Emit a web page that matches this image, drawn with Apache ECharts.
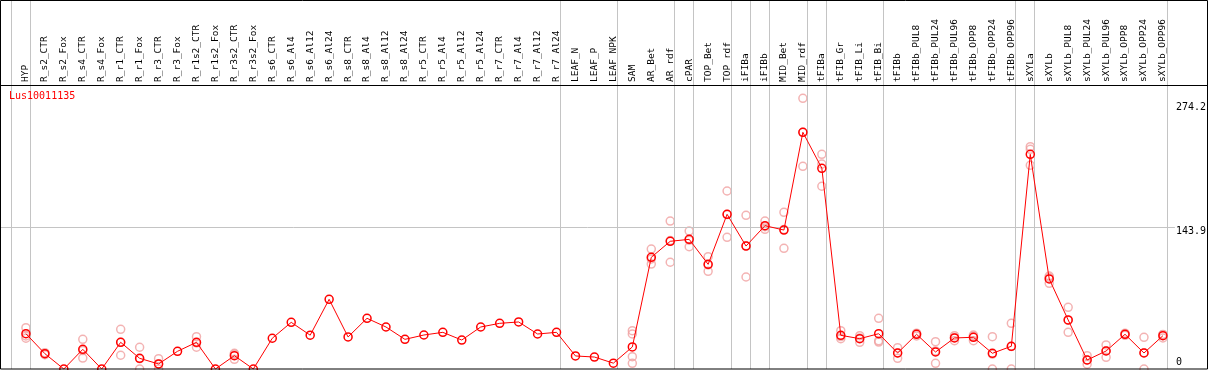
<!DOCTYPE html>
<html>
<head>
<meta charset="utf-8">
<script src="https://cdn.jsdelivr.net/npm/echarts@6/dist/echarts.min.js"></script>
<style>
html,body{margin:0;padding:0;background:#fff;}
#chart{width:1209px;height:370px;}
</style>
</head>
<body>
<div id="chart"></div>
<script>
const categories = ["HYP","R_s2_CTR","R_s2_Fox","R_s4_CTR","R_s4_Fox","R_r1_CTR","R_r1_Fox","R_r3_CTR","R_r3_Fox","R_r1s2_CTR","R_r1s2_Fox","R_r3s2_CTR","R_r3s2_Fox","R_s6_CTR","R_s6_Al4","R_s6_Al12","R_s6_Al24","R_s8_CTR","R_s8_Al4","R_s8_Al12","R_s8_Al24","R_r5_CTR","R_r5_Al4","R_r5_Al12","R_r5_Al24","R_r7_CTR","R_r7_Al4","R_r7_Al12","R_r7_Al24","LEAF_N","LEAF_P","LEAF_NPK","SAM","AR_Bet","AR_rdf","cPAR","TOP_Bet","TOP_rdf","iFIBa","iFIBb","MID_Bet","MID_rdf","tFIBa","tFIB_Gr","tFIB_Li","tFIB_Bi","tFIBb","tFIBb_PUL8","tFIBb_PUL24","tFIBb_PUL96","tFIBb_OPP8","tFIBb_OPP24","tFIBb_OPP96","sXYLa","sXYLb","sXYLb_PUL8","sXYLb_PUL24","sXYLb_PUL96","sXYLb_OPP8","sXYLb_OPP24","sXYLb_OPP96"];

const meanValues = [35.7,15.5,0,19.9,0,27,10.8,5.1,17.9,27,0,13.5,0,31.1,47.2,34.2,70.5,32.4,51.3,42.5,30,34.4,37.1,29.3,42.5,46.2,47.6,35.4,37.1,13.2,12.1,5.9,22.3,113,129.2,131.2,105.9,156.5,124.4,145,140.6,239.5,203.1,34.1,30.7,35.7,16.2,35.1,17.2,31.4,32.1,15.9,23,217.2,91.1,49.6,9.1,18.2,35.1,16.2,33.7];

const rep1 = [41.8,16.5,null,30,null,40.2,22,10.4,null,32.7,null,15.9,null,null,null,null,null,null,null,null,null,null,null,null,null,null,null,null,null,null,null,null,38.8,121.4,149.7,139.6,113.6,180.1,155.5,149.7,158.5,273.9,217.2,38.8,33.7,51.3,21.6,36.2,27.6,33.7,34.4,32.7,46.2,225,94.1,62.4,13.5,24.3,36.2,32.1,35];
const rep2 = [33.4,14.5,null,11.1,null,13.9,0,0,null,22,null,9.8,null,null,null,null,null,null,null,null,null,null,null,null,null,null,null,null,null,null,null,null,35.4,106.2,108,123.7,98.8,133.2,93.1,141.3,122.1,205.1,207.4,30.7,27,28.5,10.8,33.4,5.7,28.7,28.7,0,0,222.3,86.7,37.1,4.8,11.8,34.1,0,31.4];
const rep3 = [31.1,15.5,null,18.6,null,27,10.4,5,null,26.3,null,14.8,null,null,null,null,null,null,null,null,null,null,null,null,null,null,null,null,null,null,null,null,12.5,111.4,130,130.3,105.3,156.2,124.6,144,141.2,239.5,184.9,32.8,31.4,27.3,16.2,35.7,18.3,31.8,33.2,15,22.8,206.1,92.5,49.3,9,18.5,35,16.5,34.7];
const rep4 = [null,null,null,null,null,null,null,null,null,null,null,null,null,null,null,null,null,null,null,null,null,null,null,null,null,null,null,null,null,null,null,null,5.7,null,null,null,null,null,null,null,null,null,null,null,null,null,null,null,null,null,null,null,null,null,null,null,null,null,null,null,null];

const yTickValues = [0, 143.9, 274.2];
const groupEnds = [-1, 0, 28, 31, 34, 35, 37, 38, 39, 41, 42, 45, 52, 53, 60];
const geneName = "Lus10011135";

const MONO = '"DejaVu Sans Mono", "Liberation Mono", monospace';
const toPairs = arr => arr.map((v, i) => [i, v]).filter(p => p[1] !== null);

const repStyle = {
  type: 'scatter',
  symbol: 'circle',
  symbolSize: 8,
  itemStyle: { color: 'rgba(0,0,0,0)', borderColor: '#f0a0a0', borderWidth: 1.5 },
  silent: true,
  z: 2
};

const chart = echarts.init(document.getElementById('chart'), null, { renderer: 'canvas' });
chart.setOption({
  animation: false,
  backgroundColor: '#fff',
  title: {
    text: geneName,
    left: 9, top: 91, padding: 0,
    textStyle: { color: '#ff0000', fontSize: 10, fontWeight: 'normal', fontFamily: MONO }
  },
  grid: { left: 0, top: 0, width: 1178, height: 369, containLabel: false },
  xAxis: {
    type: 'value',
    position: 'top',
    offset: -85,
    min: -26 / 19,
    max: -26 / 19 + 1178 / 19,
    axisLine: { show: false },
    axisTick: { show: false },
    splitLine: { show: false },
    axisLabel: {
      customValues: categories.map((c, i) => i),
      formatter: v => categories[Math.round(v)] || '',
      rotate: 90,
      margin: 3,
      fontSize: 9.5,
      color: '#000',
      fontFamily: MONO,
      showMinLabel: true, showMaxLabel: true,
      hideOverlap: false
    }
  },
  yAxis: {
    type: 'value',
    position: 'right',
    min: 0,
    max: 274.2 * 369 / 271,
    axisLine: { show: false },
    axisTick: { show: false },
    splitLine: { show: false },
    axisLabel: {
      customValues: yTickValues,
      margin: 1,
      fontSize: 10,
      color: '#000',
      fontFamily: MONO,
      formatter: v => {
        const s = String(v);
        if (v === yTickValues[2]) return '{t|' + s + '}';
        if (v === yTickValues[1]) return '{m|' + s + '}';
        return '{b|' + s + '}';
      },
      rich: {
        t: { padding: [18, 0, 0, 0], fontSize: 10, fontFamily: MONO, color: '#000' },
        m: { padding: [10, 0, 0, 0], fontSize: 10, fontFamily: MONO, color: '#000' },
        b: { padding: [0, 0, 14, 0], fontSize: 10, fontFamily: MONO, color: '#000' }
      }
    }
  },
  graphic: [
    { type: 'rect', shape: { x: 0.5, y: 0.5, width: 1207, height: 368.5 }, style: { fill: null, stroke: '#000', lineWidth: 1 }, z: 100, silent: true },
    { type: 'line', shape: { x1: 0, y1: 85.5, x2: 1208, y2: 85.5 }, style: { stroke: '#000', lineWidth: 1 }, z: 100, silent: true }
  ],
  series: [
    {
      type: 'line',
      data: [],
      z: 0,
      silent: true,
      markLine: {
        silent: true,
        symbol: 'none',
        label: { show: false },
        lineStyle: { color: '#c4c4c4', type: 'solid', width: 1 },
        data: groupEnds.map(k => ({ xAxis: k + 0.22 })).concat([{ yAxis: yTickValues[1] }])
      }
    },
    Object.assign({ data: toPairs(rep1) }, repStyle),
    Object.assign({ data: toPairs(rep2) }, repStyle),
    Object.assign({ data: toPairs(rep3) }, repStyle),
    Object.assign({ data: toPairs(rep4) }, repStyle),
    {
      type: 'line',
      data: toPairs(meanValues),
      symbol: 'circle',
      symbolSize: 8,
      showAllSymbol: true,
      clip: false,
      lineStyle: { color: '#ff0000', width: 1 },
      itemStyle: { color: 'rgba(0,0,0,0)', borderColor: '#ff0000', borderWidth: 1.5 },
      z: 5
    }
  ]
});
</script>
</body>
</html>
